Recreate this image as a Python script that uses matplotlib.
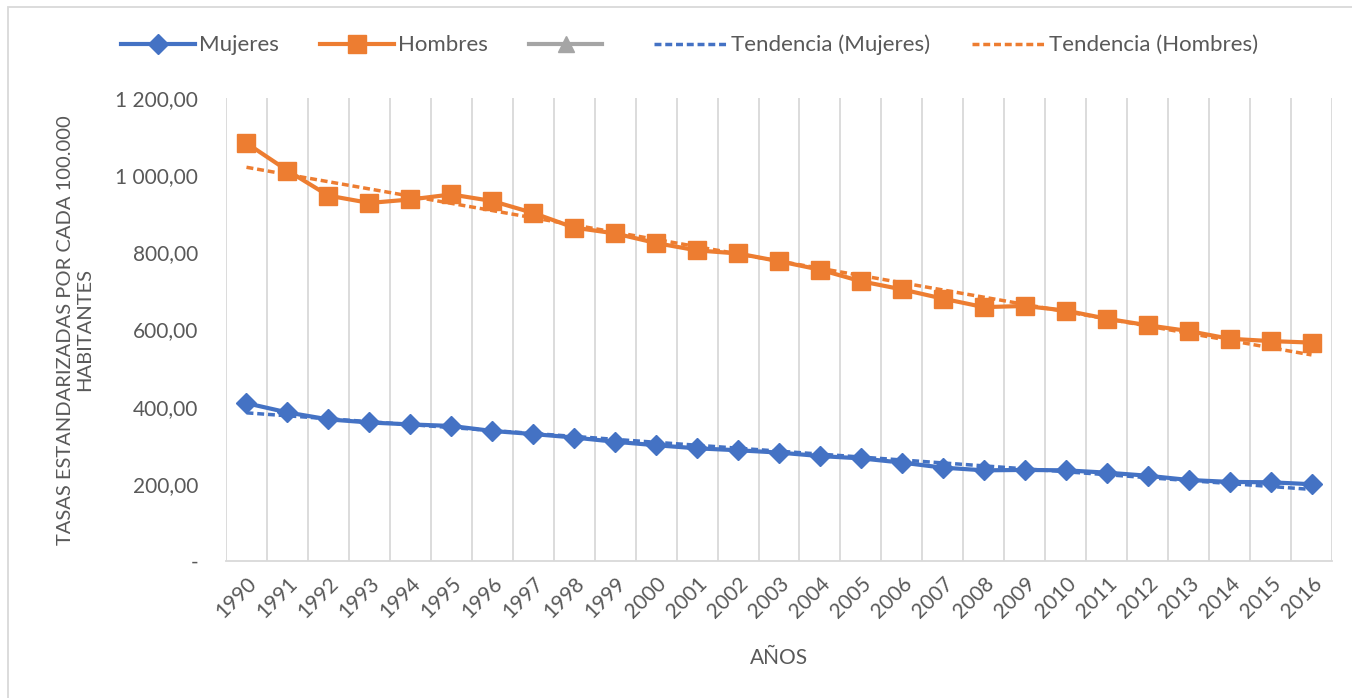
import numpy as np
import matplotlib
matplotlib.use("Agg")
import matplotlib.pyplot as plt
from matplotlib.lines import Line2D
from matplotlib.patches import Rectangle
from matplotlib.ticker import FuncFormatter

plt.rcParams['font.family'] = ['Lato', 'DejaVu Sans']

years = [str(y) for y in range(1990, 2017)]
mujeres = [409, 385, 367, 359, 354, 350, 337, 329, 320, 309, 300, 292, 287, 281,
           272, 266, 255, 242, 235, 236, 235, 229, 221, 210, 205, 204, 199]
hombres = [1083, 1012, 947, 928, 937, 950, 933, 902, 864, 849, 824, 805, 797, 777,
           755, 725, 704, 680, 658, 661, 649, 628, 611, 596, 576, 570, 566]

BLUE = "#4472C4"
ORANGE = "#ED7D31"
GRAY = "#A5A5A5"
TXT = "#595959"
GRID = "#D9D9D9"

W, H = 1352, 698
fig = plt.figure(figsize=(W / 100, H / 100), dpi=100)
fig.patch.set_facecolor("white")

# chart-area border
fig.patches.append(Rectangle((8 / W, -0.1), 1.2, 1 - 7 / H + 0.1, transform=fig.transFigure,
                             fill=False, edgecolor=GRID, linewidth=1.3))

left, right, top, bottom = 226, 1332, 98, 561
ax = fig.add_axes([left / W, 1 - bottom / H, (right - left) / W, (bottom - top) / H])

x = np.arange(len(years))

# linear trendlines (least squares, as in spreadsheet trendlines)
cm = np.polyfit(x, mujeres, 1)
ch = np.polyfit(x, hombres, 1)

dash = (2.0, 1.1)
ax.plot(x, np.polyval(cm, x), color=BLUE, lw=2.5, dashes=dash, zorder=3)
ax.plot(x, np.polyval(ch, x), color=ORANGE, lw=2.5, dashes=dash, zorder=3)
ax.plot(x, mujeres, color=BLUE, lw=3.0, marker="D", markersize=10.5, zorder=4)
ax.plot(x, hombres, color=ORANGE, lw=3.0, marker="s", markersize=12.5, zorder=4)

ax.set_xlim(-0.5, len(years) - 0.5)
ax.set_ylim(0, 1200)
ax.set_yticks(np.arange(0, 1201, 200))


def fmt(v, pos):
    if v == 0:
        return "-"
    s = f"{v:,.2f}"
    return s.replace(",", " ").replace(".", ",")


ax.yaxis.set_major_formatter(FuncFormatter(fmt))
ax.set_xticks(x)
ax.set_xticklabels(years, rotation=45, ha="right", va="top", rotation_mode="anchor")
ax.set_xticks(np.arange(-0.5, len(years), 1.0), minor=True)
ax.tick_params(axis="x", which="both", length=0, pad=9, labelsize=15, labelcolor=TXT)
ax.tick_params(axis="y", length=0, pad=20, labelsize=15, labelcolor=TXT)
ax.grid(True, which="minor", axis="x", color=GRID, lw=1.3)
ax.grid(False, which="major")
for s in ["top", "right", "left"]:
    ax.spines[s].set_visible(False)
ax.spines["bottom"].set_color(GRID)
ax.spines["bottom"].set_linewidth(1.3)

ax.set_xlabel("AÑOS", fontsize=15, color=TXT, labelpad=19)
fig.text(75 / W, 1 - 330 / H, "TASAS ESTANDARIZADAS POR CADA 100.000\nHABITANTES",
         rotation=90, ha="center", va="center", fontsize=14.5, color=TXT,
         multialignment="center", linespacing=1.1)

handles = [
    Line2D([], [], color=BLUE, lw=3.0, marker="D", markersize=10.5),
    Line2D([], [], color=ORANGE, lw=3.0, marker="s", markersize=12.5),
    Line2D([], [], color=GRAY, lw=3.0, marker="^", markersize=11),
    Line2D([], [], color=BLUE, lw=2.5, dashes=dash),
    Line2D([], [], color=ORANGE, lw=2.5, dashes=dash),
]
labels = ["Mujeres", "Hombres", " ", "Tendencia (Mujeres)", "Tendencia (Hombres)"]
leg = fig.legend(handles, labels, loc="center", bbox_to_anchor=(690 / W, 1 - 45 / H),
                 ncol=5, frameon=False, fontsize=16, handlelength=3.3,
                 handletextpad=0.2, columnspacing=1.85, labelcolor=TXT)

fig.savefig("out.png", dpi=100, facecolor="white")
